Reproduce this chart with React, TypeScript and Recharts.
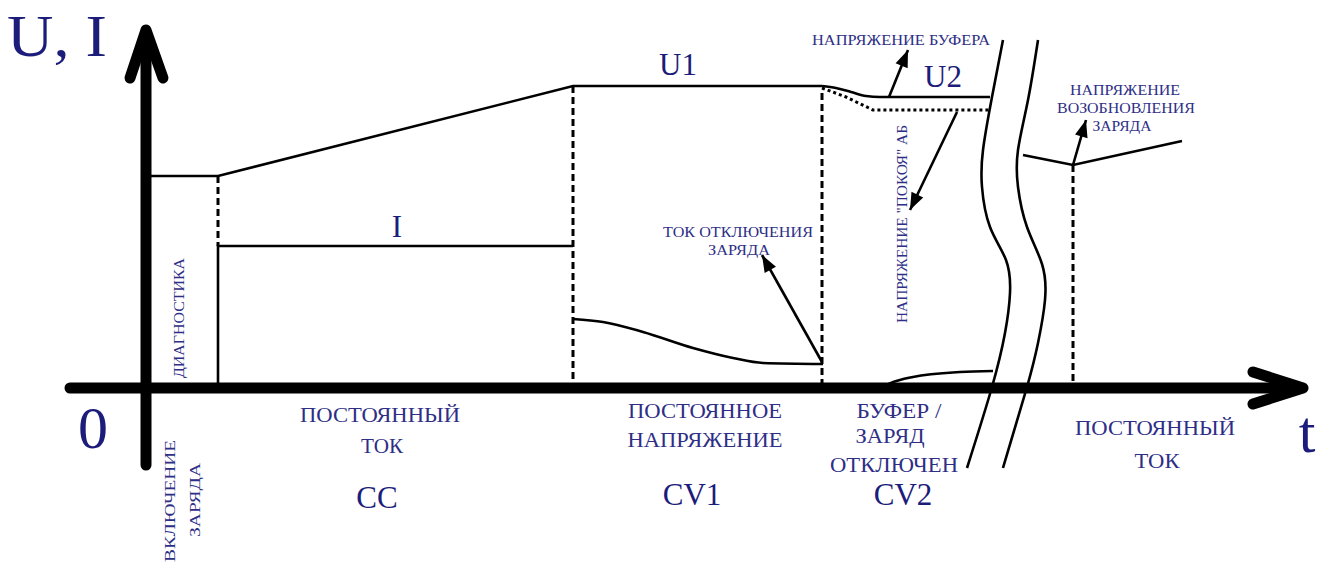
import React from 'react';
import { LineChart, Line, XAxis, YAxis, ReferenceDot } from 'recharts';

type Pt = { x: number; y: number };

const W = 1326;
const H = 563;

// chart units: 1 unit = 1 px, origin where the two axes cross
const xAxisShaft: Pt[] = [{ x: -76, y: 0 }, { x: 1150, y: 0 }];
const xAxisHead: Pt[] = [{ x: 1107, y: 16 }, { x: 1157, y: 0 }, { x: 1107, y: -16 }];
const yAxisShaft: Pt[] = [{ x: 0, y: -77 }, { x: 0, y: 352 }];
const yAxisHead: Pt[] = [{ x: -16, y: 310 }, { x: 0, y: 358 }, { x: 17, y: 310 }];

// voltage U
const voltageMain: Pt[] = [
  { x: 0, y: 212 }, { x: 72, y: 212 }, { x: 427, y: 302 }, { x: 676, y: 302 },
];
const voltageBuffer: Pt[] = [
  { x: 676, y: 302 }, { x: 690, y: 300 }, { x: 705, y: 296 }, { x: 720, y: 292 },
  { x: 734, y: 291 }, { x: 844, y: 291 },
];
const voltageRest: Pt[] = [
  { x: 676, y: 300 }, { x: 700, y: 291 }, { x: 727, y: 278 }, { x: 844, y: 278 },
];
const voltageResume: Pt[] = [{ x: 877, y: 233 }, { x: 927, y: 223 }, { x: 1036, y: 247 }];

// current I
const currentCC: Pt[] = [{ x: 72, y: 0 }, { x: 72, y: 142 }, { x: 427, y: 142 }];
const currentCV1: Pt[] = [
  { x: 427, y: 69 }, { x: 457, y: 66 }, { x: 497, y: 56 }, { x: 547, y: 40 },
  { x: 587, y: 30 }, { x: 617, y: 25 }, { x: 677, y: 24 },
];
const currentCV2: Pt[] = [
  { x: 735, y: 0 }, { x: 745, y: 5 }, { x: 767, y: 11 }, { x: 814, y: 16 }, { x: 847, y: 17 },
];

// phase borders (dashed)
const phaseBorders: Pt[][] = [
  [{ x: 72, y: 212 }, { x: 72, y: 142 }],
  [{ x: 427, y: 302 }, { x: 427, y: 0 }],
  [{ x: 676, y: 295 }, { x: 676, y: 0 }],
  [{ x: 927, y: 223 }, { x: 927, y: 0 }],
];

// time break
const breakLeft: Pt[] = [
  { x: 857, y: 348 }, { x: 846, y: 291 }, { x: 837, y: 238 }, { x: 836, y: 201 },
  { x: 844, y: 161 }, { x: 860, y: 128 }, { x: 864, y: 95 }, { x: 859, y: 55 },
  { x: 846, y: 1 }, { x: 821, y: -80 },
];
const breakRight: Pt[] = [
  { x: 892, y: 348 }, { x: 882, y: 288 }, { x: 872, y: 238 }, { x: 872, y: 201 },
  { x: 881, y: 161 }, { x: 896, y: 124 }, { x: 899, y: 88 }, { x: 892, y: 45 },
  { x: 881, y: 1 }, { x: 857, y: -80 },
];

// pointer arrows: from -> tip
const pointers: { from: Pt; to: Pt }[] = [
  { from: { x: 743, y: 291 }, to: { x: 762, y: 338 } },
  { from: { x: 811, y: 276 }, to: { x: 764, y: 178 } },
  { from: { x: 676, y: 26 }, to: { x: 616, y: 133 } },
  { from: { x: 927, y: 223 }, to: { x: 940, y: 268 } },
];

type Note = { text: string; x: number; y: number; kind: 'axis' | 'mode' | 'phase' | 'small'; w?: number; vertical?: boolean };

const notes: Note[] = [
  { text: 'U, I', x: -89, y: 332, kind: 'axis', w: 100 },
  { text: '0', x: -53, y: -60, kind: 'axis' },
  { text: 't', x: 1161, y: -64, kind: 'axis' },
  { text: 'U1', x: 532, y: 313, kind: 'mode' },
  { text: 'U2', x: 797, y: 301, kind: 'mode' },
  { text: 'I', x: 251, y: 151, kind: 'mode' },
  { text: 'CC', x: 231, y: -120, kind: 'mode' },
  { text: 'CV1', x: 546, y: -117, kind: 'mode' },
  { text: 'CV2', x: 757, y: -117, kind: 'mode' },
  { text: 'ПОСТОЯННЫЙ', x: 234, y: -34, kind: 'phase', w: 160 },
  { text: 'ТОК', x: 236, y: -65, kind: 'phase', w: 42 },
  { text: 'ПОСТОЯННОЕ', x: 559, y: -30, kind: 'phase', w: 154 },
  { text: 'НАПРЯЖЕНИЕ', x: 559, y: -59, kind: 'phase', w: 155 },
  { text: 'БУФЕР /', x: 753, y: -30, kind: 'phase', w: 85 },
  { text: 'ЗАРЯД', x: 744, y: -55, kind: 'phase', w: 69 },
  { text: 'ОТКЛЮЧЕН', x: 748, y: -84, kind: 'phase', w: 128 },
  { text: 'ПОСТОЯННЫЙ', x: 1009, y: -47, kind: 'phase', w: 160 },
  { text: 'ТОК', x: 1011, y: -80, kind: 'phase', w: 45 },
  { text: 'НАПРЯЖЕНИЕ БУФЕРА', x: 755, y: 343, kind: 'small', w: 178 },
  { text: 'ТОК ОТКЛЮЧЕНИЯ', x: 592, y: 151, kind: 'small', w: 150 },
  { text: 'ЗАРЯДА', x: 593, y: 133, kind: 'small', w: 62 },
  { text: 'НАПРЯЖЕНИЕ', x: 979, y: 293, kind: 'small', w: 110 },
  { text: 'ВОЗОБНОВЛЕНИЯ', x: 980, y: 275, kind: 'small', w: 138 },
  { text: 'ЗАРЯДА', x: 976, y: 257, kind: 'small', w: 59 },
  { text: 'ДИАГНОСТИКА', x: 33, y: 70, kind: 'small', w: 120, vertical: true },
  { text: 'ВКЛЮЧЕНИЕ', x: 24, y: -113, kind: 'small', w: 122, vertical: true },
  { text: 'ЗАРЯДА', x: 49, y: -112, kind: 'small', w: 74, vertical: true },
  { text: 'НАПРЯЖЕНИЕ "ПОКОЯ" АБ', x: 756, y: 164, kind: 'small', w: 198, vertical: true },
];

const fontSize = { axis: 60, mode: 31, phase: 21, small: 14 };
const inkBig = '#1c1c7a';
const inkSmall = '#2e2e86';
const serif = "'Liberation Serif', 'Times New Roman', Times, serif";

const NoteText = ({ cx, cy, note }: any) => {
  const big = note.kind === 'axis' || note.kind === 'mode';
  return (
    <text
      x={cx}
      y={cy}
      textAnchor="middle"
      dominantBaseline={note.vertical ? 'central' : 'alphabetic'}
      transform={note.vertical ? `rotate(-90 ${cx} ${cy})` : undefined}
      style={{ fontFamily: serif, fontSize: fontSize[note.kind as keyof typeof fontSize] }}
      fill={big ? inkBig : inkSmall}
      textLength={note.w}
      lengthAdjust={note.w ? 'spacingAndGlyphs' : undefined}
    >
      {note.text}
    </text>
  );
};

// filled head at the tip of a pointer (scale is 1 px per unit)
const headAt = (from: Pt, to: Pt) => (p: any) => {
  if (p.index !== 1) return <g key={`h${p.index}`} />;
  const ang = (Math.atan2(-(to.y - from.y), to.x - from.x) * 180) / Math.PI;
  return (
    <path
      key={`h${p.index}`}
      d="M0,0 L-17,-6.5 L-17,6.5 Z"
      transform={`translate(${p.cx},${p.cy}) rotate(${ang})`}
      fill="#000"
    />
  );
};

const solid = { stroke: '#000', strokeWidth: 2.6, dot: false, activeDot: false, isAnimationActive: false, dataKey: 'y' };

const App: React.FC = () => {
  return (
    <div style={{ position: 'absolute', left: 0, top: 0, width: W, height: H, background: '#fff' }}>
      <LineChart width={W} height={H} margin={{ top: 0, right: 0, bottom: 0, left: 0 }}>
        <XAxis dataKey="x" type="number" domain={[-146, 1180]} allowDataOverflow hide />
        <YAxis type="number" domain={[-175, 388]} allowDataOverflow hide />

        {phaseBorders.map((b, i) => (
          <Line key={`pb${i}`} {...solid} data={b} type="linear" strokeWidth={3} strokeDasharray="7 4" />
        ))}

        <Line {...solid} data={voltageMain} type="linear" />
        <Line {...solid} data={voltageBuffer} type="monotone" />
        <Line {...solid} data={voltageRest} type="linear" strokeWidth={3} strokeDasharray="3 3" />
        <Line {...solid} data={voltageResume} type="linear" />

        <Line {...solid} data={currentCC} type="linear" />
        <Line {...solid} data={currentCV1} type="monotone" />
        <Line {...solid} data={currentCV2} type="monotone" />

        <Line {...solid} data={breakLeft} type="natural" />
        <Line {...solid} data={breakRight} type="natural" />

        {pointers.map((a, i) => (
          <Line key={`ar${i}`} {...solid} data={[a.from, a.to]} type="linear" dot={headAt(a.from, a.to)} />
        ))}

        <Line {...solid} data={xAxisShaft} type="linear" strokeWidth={11} strokeLinecap="round" />
        <Line {...solid} data={xAxisHead} type="linear" strokeWidth={11} strokeLinecap="round" strokeLinejoin="round" />
        <Line {...solid} data={yAxisShaft} type="linear" strokeWidth={11} strokeLinecap="round" />
        <Line {...solid} data={yAxisHead} type="linear" strokeWidth={11} strokeLinecap="round" strokeLinejoin="round" />

        {notes.map((n, i) => (
          <ReferenceDot
            key={`n${i}`}
            x={n.x}
            y={n.y}
            r={0}
            ifOverflow="visible"
            shape={(p: any) => <NoteText {...p} note={n} />}
          />
        ))}
      </LineChart>
    </div>
  );
};

export default App;
